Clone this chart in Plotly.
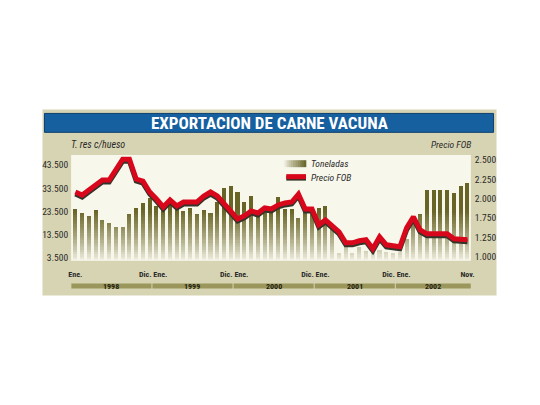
import plotly.graph_objects as go
import numpy as np

# ---------------- data ----------------
years = [1998, 1999, 2000, 2001, 2002]
months = [f"{y}-{m:02d}" for y in years for m in range(1, 13)][:59]  # Ene 1998 .. Nov 2002

toneladas = [
    24300, 22900, 21600, 24100, 19700, 18100, 16500, 16800, 22400, 24900, 27300, 29300,   # 1998
    26000, 24600, 26700, 25300, 23400, 24900, 22400, 24100, 22900, 27500, 33500, 34300,   # 1999
    32000, 27500, 30000, 21700, 24300, 24300, 29900, 24600, 24600, 20300, 25300, 22500,   # 2000
    24900, 25700, 17000, 5500, 8100, 5200, 8000, 6300, 9500, 7000, 6000, 5600,            # 2001
    5800, 11300, 21000, 22400, 32900, 32900, 32900, 32900, 31500, 34300, 35800,           # 2002
]

precio_fob = [
    2005, 1958, 2036, 2113, 2190, 2190, 2345, 2515, 2515, 2206, 2175, 2005,
    1896, 1773, 1881, 1788, 1850, 1850, 1850, 1943, 2005, 1943, 1819, 1711,
    1587, 1634, 1711, 1680, 1757, 1742, 1804, 1835, 1850, 1974, 1742, 1742,
    1495, 1572, 1479, 1386, 1216, 1216, 1247, 1263, 1124, 1309, 1185, 1170,
    1155, 1448, 1618, 1417, 1355, 1355, 1355, 1355, 1278, 1263, 1263,
]

left_tickvals = [3500, 13500, 23500, 33500, 43500]
left_ticktext = ["3.500", "13.500", "23.500", "33.500", "43.500"]
right_tickvals = [1000, 1300, 1600, 1900, 2200, 2500]
right_ticktext = ["1.000", "1.250", "1.750", "2.000", "2.250", "2.500"]
x_tickvals = [0, 11.5, 23.5, 35.5, 47.5, 58]
x_ticktext = ["Ene.", "Dic. Ene.", "Dic. Ene.", "Dic. Ene.", "Dic. Ene.", "Nov."]

title = "EXPORTACION DE CARNE VACUNA"

# ---------------- helpers ----------------
W, H = 540, 405
def px(x): return x / W
def py(y): return 1 - y / H

FONT = "Liberation Sans Narrow, Roboto Condensed, Liberation Sans, Arial"
x = list(range(len(months)))

OLIVE = np.array([104, 100, 38])
CREAM = np.array([247, 246, 234])
def blend(t):
    c = CREAM + (OLIVE - CREAM) * t
    return "rgb(%d,%d,%d)" % tuple(int(round(v)) for v in c)

fig = go.Figure()

# gradient bars (stacked bands, colour fixed by height)
edges = list(range(0, 26000, 1000)) + [60000]
for lo, hi in zip(edges[:-1], edges[1:]):
    mid = min((lo + hi) / 2, 25000)
    t = float(np.clip((mid - 2200) / 22000, 0, 1)) ** 0.8
    seg = [max(0, min(v, hi) - lo) for v in toneladas]
    fig.add_bar(x=x, y=seg, marker_color=blend(t), marker_line_width=0,
                width=0.6, xaxis="x", yaxis="y", showlegend=False, hoverinfo="skip")

# shadow of price line
fig.add_scatter(x=x, y=precio_fob, mode="lines", line=dict(color="#34342a", width=5),
                xaxis="x", yaxis="y2", showlegend=False, hoverinfo="skip")
# price line
fig.add_scatter(x=x, y=precio_fob, mode="lines", line=dict(color="#d9071c", width=5),
                xaxis="x", yaxis="y3", showlegend=False)

dom_x = [px(69), px(474)]
dom_y = [py(262), py(155.7)]
r_lo, r_hi = 938, 2581
shift = 2 * (r_hi - r_lo) / (262 - 155.7)

tickfont = dict(family=FONT, size=9.5, color="#2a2a2a")
fig.update_layout(
    width=W, height=H, autosize=False,
    margin=dict(l=0, r=0, t=0, b=0),
    paper_bgcolor="white", plot_bgcolor="rgba(0,0,0,0)",
    barmode="stack", bargap=0,
    xaxis=dict(domain=dom_x, range=[-0.63, 58.5], showgrid=False, zeroline=False,
               showline=False, tickvals=x_tickvals,
               ticktext=["<b>%s</b>" % t for t in x_ticktext],
               tickfont=dict(family=FONT, size=8, color="#2a2a2a"), ticks="",
               ticklabelstandoff=7),
    yaxis=dict(domain=dom_y, range=[2210, 47900], showgrid=False, zeroline=False,
               showline=False, tickvals=left_tickvals, ticktext=left_ticktext,
               tickfont=tickfont, ticks="", ticklabelstandoff=2),
    yaxis2=dict(overlaying="y", range=[r_lo + shift, r_hi + shift], visible=False),
    yaxis3=dict(overlaying="y", side="right", range=[r_lo, r_hi], showgrid=False,
                zeroline=False, showline=False, tickvals=right_tickvals,
                ticktext=right_ticktext, tickfont=tickfont, ticks="", ticklabelstandoff=3),
)

shapes = []
# outer beige panel
shapes.append(dict(type="rect", xref="paper", yref="paper", x0=px(40), x1=px(500),
                   y0=py(297), y1=py(110), fillcolor="#d7d4b3", line_width=0, layer="below"))
# plot area cream
shapes.append(dict(type="rect", xref="paper", yref="paper", x0=dom_x[0], x1=dom_x[1],
                   y0=dom_y[0], y1=dom_y[1], fillcolor="#f8f7ec", line_width=0, layer="below"))
# title bar
shapes.append(dict(type="rect", xref="paper", yref="paper", x0=px(42), x1=px(497),
                   y0=py(133), y1=py(114), fillcolor="#17609f",
                   line=dict(color="#0e3f6e", width=1), layer="below"))
# year bands
for i, yr in enumerate(years):
    x0 = 12 * i - 0.6
    x1 = min(12 * i + 11.25, 58.5)
    shapes.append(dict(type="rect", xref="x", yref="paper", x0=x0, x1=x1,
                       y0=py(290), y1=py(285), fillcolor="#9a965c", line_width=0))
# legend swatch: gradient
n = 10
for k in range(n):
    xa = 285 + k * 22 / n
    shapes.append(dict(type="rect", xref="paper", yref="paper", x0=px(xa), x1=px(xa + 22 / n + 0.3),
                       y0=py(168), y1=py(161), fillcolor=blend(((k + 0.5) / n) ** 0.8), line_width=0))
# legend swatch: red line with shadow
shapes.append(dict(type="line", xref="paper", yref="paper", x0=px(287), x1=px(307),
                   y0=py(179), y1=py(179), line=dict(color="#34342a", width=5)))
shapes.append(dict(type="line", xref="paper", yref="paper", x0=px(287), x1=px(307),
                   y0=py(177.5), y1=py(177.5), line=dict(color="#d9071c", width=5)))
fig.update_layout(shapes=shapes)

ann = []
ann.append(dict(text="<b>%s</b>" % title, xref="paper", yref="paper", x=px(270), y=py(124),
                showarrow=False, font=dict(family=FONT, size=17, color="white"),
                xanchor="center", yanchor="middle"))
ann.append(dict(text="<i>T. res c/hueso</i>", xref="paper", yref="paper", x=px(67), y=py(145),
                showarrow=False, font=dict(family=FONT, size=10, color="#2a2a2a"),
                xanchor="left", yanchor="middle"))
ann.append(dict(text="<i>Precio FOB</i>", xref="paper", yref="paper", x=px(476), y=py(145),
                showarrow=False, font=dict(family=FONT, size=9.5, color="#2a2a2a"),
                xanchor="right", yanchor="middle"))
ann.append(dict(text="<i>Toneladas</i>", xref="paper", yref="paper", x=px(310), y=py(164.5),
                showarrow=False, font=dict(family=FONT, size=9.5, color="#2a2a2a"),
                xanchor="left", yanchor="middle"))
ann.append(dict(text="<i>Precio FOB</i>", xref="paper", yref="paper", x=px(310), y=py(178),
                showarrow=False, font=dict(family=FONT, size=9.5, color="#2a2a2a"),
                xanchor="left", yanchor="middle"))
for i, yr in enumerate(years):
    x0 = 12 * i - 0.6
    x1 = min(12 * i + 11.25, 58.5)
    ann.append(dict(text="<b>%d</b>" % yr, xref="x", yref="paper", x=(x0 + x1) / 2, y=py(287.5),
                    showarrow=False, font=dict(family=FONT, size=8, color="#1e1e10"),
                    xanchor="center", yanchor="middle"))
fig.update_layout(annotations=ann)

fig.write_html("out.html")
